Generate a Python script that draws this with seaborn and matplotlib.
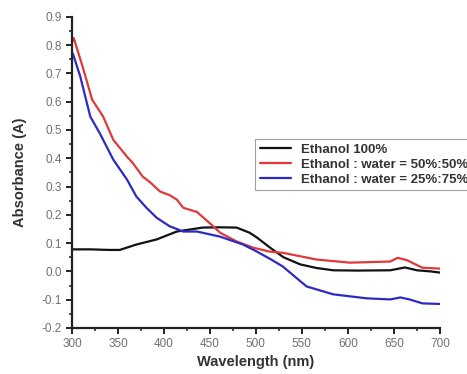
import numpy as np
import pandas as pd
import matplotlib
matplotlib.use("Agg")
import matplotlib.pyplot as plt
import seaborn as sns
from matplotlib.ticker import MultipleLocator

# --- data ---
wl_black = [300, 320, 340, 352, 370, 392, 414, 442, 460, 479, 493, 501, 515, 530, 548, 566, 584, 610, 646, 662, 675, 690, 700]
abs_black = [0.078, 0.078, 0.076, 0.076, 0.095, 0.113, 0.141, 0.155, 0.156, 0.155, 0.137, 0.12, 0.085, 0.05, 0.025, 0.012, 0.004, 0.003, 0.004, 0.014, 0.004, 0.0, -0.004]

wl_red = [300, 302, 312, 322, 334, 345, 360, 366, 377, 385, 396, 406, 414, 421, 436, 450, 461, 479, 497, 515, 529, 566, 602, 646, 654, 664, 681, 700]
abs_red = [0.81, 0.825, 0.72, 0.607, 0.547, 0.465, 0.405, 0.384, 0.335, 0.315, 0.282, 0.27, 0.254, 0.225, 0.21, 0.17, 0.137, 0.106, 0.084, 0.07, 0.066, 0.042, 0.031, 0.035, 0.048, 0.04, 0.013, 0.01]

wl_blue = [300, 301, 309, 320, 330, 345, 360, 370, 381, 392, 406, 421, 436, 461, 486, 500, 515, 529, 555, 584, 620, 646, 657, 667, 681, 700]
abs_blue = [0.76, 0.77, 0.69, 0.547, 0.49, 0.395, 0.324, 0.265, 0.225, 0.19, 0.16, 0.141, 0.141, 0.123, 0.095, 0.072, 0.045, 0.018, -0.053, -0.081, -0.095, -0.099, -0.092, -0.099, -0.113, -0.115]

labels = ["Ethanol 100%", "Ethanol : water = 50%:50%", "Ethanol : water = 25%:75%"]
colors = ["#111111", "#e0393a", "#2b2bc4"]

df = pd.concat([
    pd.DataFrame({"Wavelength": wl_black, "Absorbance": abs_black, "Sample": labels[0]}),
    pd.DataFrame({"Wavelength": wl_red, "Absorbance": abs_red, "Sample": labels[1]}),
    pd.DataFrame({"Wavelength": wl_blue, "Absorbance": abs_blue, "Sample": labels[2]}),
], ignore_index=True)

sns.set_style("ticks")
plt.rcParams["font.family"] = ["Liberation Sans", "DejaVu Sans"]

fig = plt.figure(figsize=(4.67, 3.74), dpi=100)
ax = fig.add_axes([0.154, 0.123, 0.788, 0.832])

sns.lineplot(data=df, x="Wavelength", y="Absorbance", hue="Sample",
             palette=dict(zip(labels, colors)), hue_order=labels,
             linewidth=1.6, ax=ax, sort=False, estimator=None)

ax.set_xlim(300, 700)
ax.set_ylim(-0.2, 0.9)
ax.xaxis.set_major_locator(MultipleLocator(50))
ax.xaxis.set_minor_locator(MultipleLocator(25))
ax.yaxis.set_major_locator(MultipleLocator(0.1))
ax.yaxis.set_minor_locator(MultipleLocator(0.05))
ax.yaxis.set_major_formatter(matplotlib.ticker.FormatStrFormatter("%.1f"))

for s in ["top", "right"]:
    ax.spines[s].set_visible(False)
for s in ["left", "bottom"]:
    ax.spines[s].set_linewidth(1.6)
    ax.spines[s].set_color("#222222")

ax.tick_params(which="major", direction="out", length=4, width=1.4, labelsize=8.5,
               labelcolor="#707070", color="#222222", pad=3)
ax.tick_params(which="minor", direction="out", length=2.5, width=1.1, color="#222222")

ax.set_xlabel("Wavelength (nm)", fontsize=10.5, fontweight="bold", color="#333333", labelpad=4)
ax.set_ylabel("Absorbance (A)", fontsize=10.5, fontweight="bold", color="#333333", labelpad=11)

leg = ax.legend(loc="upper left", bbox_to_anchor=(255/467, 1 - 139/374),
                bbox_transform=fig.transFigure, frameon=True, fancybox=False,
                prop={"size": 9.5, "weight": "bold"}, handlelength=2.4,
                borderpad=0.35, labelspacing=0.2, handletextpad=0.7,
                borderaxespad=0)
leg.get_frame().set_edgecolor("#888888")
leg.get_frame().set_linewidth(0.8)
for t in leg.get_texts():
    t.set_color("#333333")

fig.savefig("out.png", dpi=100)
